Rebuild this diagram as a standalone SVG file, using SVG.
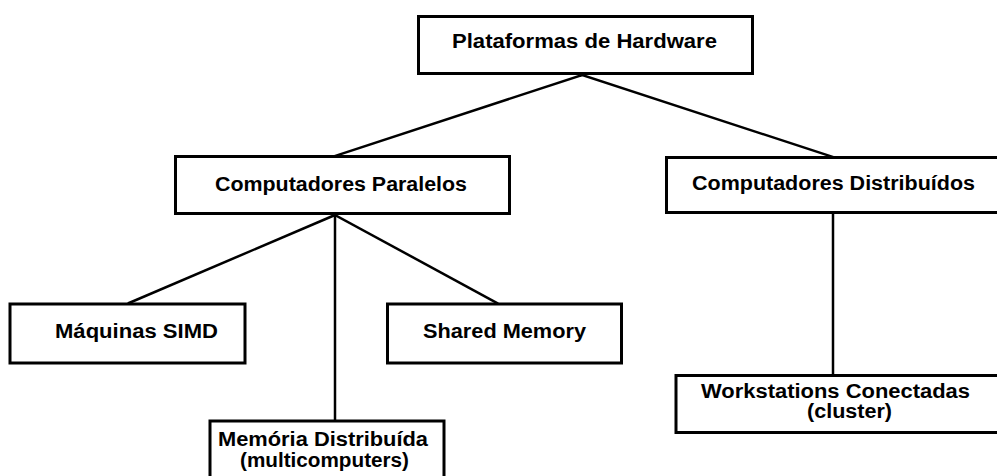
<svg xmlns="http://www.w3.org/2000/svg" width="997" height="476" viewBox="0 0 997 476">
  <style>
    .box { fill: #ffffff; stroke: #000000; stroke-width: 3; }
    .edge { stroke: #000000; stroke-width: 2.5; fill: none; stroke-linecap: square; }
    .label { font-family: "Liberation Sans", Arial, sans-serif; font-weight: bold; font-size: 20px; fill: #000000; }
  </style>
  <rect width="997" height="476" fill="#ffffff"/>

  <!-- tree edges -->
  <g id="connectors">
    <line class="edge" x1="582" y1="75" x2="335" y2="156"/>
    <line class="edge" x1="582" y1="75" x2="833" y2="157"/>
    <line class="edge" x1="335" y1="215" x2="129" y2="303"/>
    <line class="edge" x1="335" y1="215" x2="497" y2="303"/>
    <line class="edge" x1="335" y1="215" x2="335" y2="420"/>
    <line class="edge" x1="833" y1="214" x2="833" y2="375"/>
  </g>

  <g id="plataformas">
    <rect class="box" x="418.5" y="16.5" width="334" height="57"/>
    <text class="label" x="452" y="48" textLength="265" lengthAdjust="spacingAndGlyphs">Plataformas de Hardware</text>
  </g>

  <g id="paralelos">
    <rect class="box" x="175.5" y="156.5" width="334" height="57"/>
    <text class="label" x="215" y="191" textLength="252" lengthAdjust="spacingAndGlyphs">Computadores Paralelos</text>
  </g>

  <g id="distribuidos">
    <rect class="box" x="666.5" y="157.5" width="340" height="55"/>
    <text class="label" x="692" y="190" textLength="283" lengthAdjust="spacingAndGlyphs">Computadores Distribuídos</text>
  </g>

  <g id="simd">
    <rect class="box" x="10" y="304" width="235" height="59"/>
    <text class="label" x="55" y="338" textLength="163" lengthAdjust="spacingAndGlyphs">Máquinas SIMD</text>
  </g>

  <g id="shared-memory">
    <rect class="box" x="387.5" y="304" width="234" height="59"/>
    <text class="label" x="423" y="338" textLength="163" lengthAdjust="spacingAndGlyphs">Shared Memory</text>
  </g>

  <g id="memoria-distribuida">
    <rect class="box" x="210" y="421" width="234" height="70"/>
    <text class="label" x="218" y="446" textLength="210" lengthAdjust="spacingAndGlyphs">Memória Distribuída</text>
    <text class="label" x="240" y="467" textLength="169" lengthAdjust="spacingAndGlyphs">(multicomputers)</text>
  </g>

  <g id="workstations">
    <rect class="box" x="676" y="375.5" width="330" height="57"/>
    <text class="label" x="701" y="398" textLength="269" lengthAdjust="spacingAndGlyphs">Workstations Conectadas</text>
    <text class="label" x="807" y="418" textLength="85" lengthAdjust="spacingAndGlyphs">(cluster)</text>
  </g>
</svg>
